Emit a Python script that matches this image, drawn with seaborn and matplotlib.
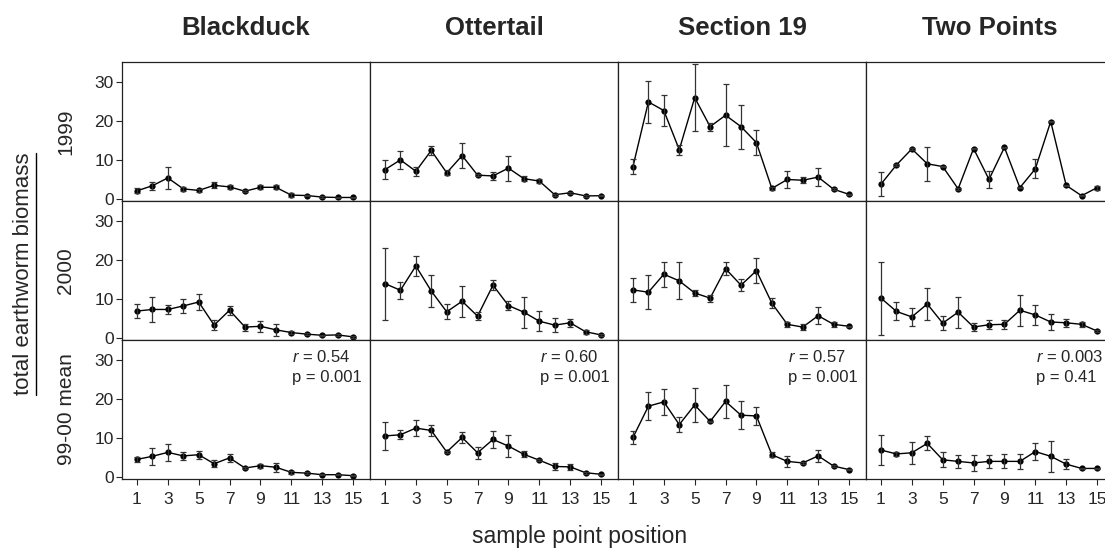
import matplotlib
matplotlib.use("Agg")
import matplotlib.pyplot as plt
from matplotlib.lines import Line2D
import numpy as np
import pandas as pd
import seaborn as sns

sites = ["Blackduck", "Ottertail", "Section 19", "Two Points"]
years = ["1999", "2000", "99-00 mean"]
positions = list(range(1, 16))
xtick_labels = ["1", "3", "5", "7", "9", "11", "13", "15"]

# 1999
blackduck_1999 = [2.1, 3.4, 5.4, 2.6, 2.2, 3.5, 3.1, 2.0, 3.0, 3.0, 1.0, 0.9, 0.5, 0.4, 0.4]
blackduck_1999_se = [0.6, 1.0, 2.9, 0.5, 0.3, 0.8, 0.5, 0.2, 0.5, 0.5, 0.5, 0.2, 0.2, 0.2, 0.2]
ottertail_1999 = [7.5, 10.0, 7.1, 12.4, 6.7, 11.1, 6.1, 5.9, 7.9, 5.2, 4.6, 1.1, 1.6, 0.8, 0.85]
ottertail_1999_se = [2.4, 2.2, 1.1, 1.1, 0.6, 3.1, 0.2, 1.0, 3.2, 0.6, 0.6, 0.2, 0.2, 0.2, 0.2]
section19_1999 = [8.3, 24.8, 22.6, 12.6, 25.9, 18.5, 21.4, 18.5, 14.4, 2.7, 5.0, 4.8, 5.6, 2.5, 1.2]
section19_1999_se = [1.8, 5.4, 3.9, 1.3, 8.6, 1.0, 7.9, 5.6, 3.2, 0.5, 2.1, 0.8, 2.3, 0.2, 0.2]
twopoints_1999 = [3.8, 8.7, 12.8, 9.0, 8.3, 2.6, 12.9, 5.0, 13.2, 2.9, 7.7, 19.8, 3.5, 0.85, 2.9]
twopoints_1999_se = [3.0, 0.2, 0.2, 4.3, 0.2, 0.2, 0.2, 2.1, 0.2, 0.2, 2.4, 0.2, 0.2, 0.2, 0.5]

# 2000
blackduck_2000 = [6.9, 7.3, 7.3, 8.2, 9.2, 3.3, 7.1, 2.8, 3.0, 2.1, 1.4, 1.0, 0.7, 0.8, 0.3]
blackduck_2000_se = [1.9, 3.1, 1.1, 1.8, 2.1, 1.2, 1.2, 0.9, 1.4, 1.5, 0.3, 0.2, 0.2, 0.2, 0.2]
ottertail_2000 = [13.9, 12.2, 18.4, 12.0, 6.7, 9.4, 5.6, 13.5, 8.3, 6.6, 4.3, 3.3, 3.9, 1.6, 0.8]
ottertail_2000_se = [9.2, 2.2, 2.5, 4.0, 1.9, 4.0, 1.0, 1.2, 1.2, 4.0, 2.5, 1.7, 1.0, 0.5, 0.2]
section19_2000 = [12.3, 11.7, 16.3, 14.6, 11.5, 10.2, 17.7, 13.5, 17.2, 8.9, 3.5, 2.8, 5.7, 3.5, 3.0]
section19_2000_se = [3.1, 4.4, 3.2, 4.7, 0.7, 0.9, 1.7, 1.6, 3.2, 1.3, 0.7, 0.8, 2.2, 0.7, 0.2]
twopoints_2000 = [10.2, 6.8, 5.4, 8.7, 3.8, 6.6, 2.8, 3.4, 3.5, 7.1, 5.9, 4.1, 3.9, 3.5, 1.8]
twopoints_2000_se = [9.3, 2.3, 2.4, 4.0, 1.8, 4.0, 1.0, 1.2, 1.2, 4.0, 2.5, 2.0, 1.0, 0.6, 0.2]

# 99-00 mean
blackduck_mean = [4.5, 5.3, 6.3, 5.4, 5.7, 3.4, 4.9, 2.3, 2.9, 2.5, 1.2, 1.0, 0.6, 0.6, 0.35]
blackduck_mean_se = [0.6, 2.1, 2.1, 1.0, 1.0, 0.9, 1.0, 0.3, 0.5, 1.1, 0.4, 0.2, 0.2, 0.2, 0.2]
ottertail_mean = [10.5, 10.8, 12.5, 11.9, 6.4, 10.1, 6.2, 9.6, 7.9, 5.8, 4.3, 2.7, 2.6, 1.1, 0.7]
ottertail_mean_se = [3.5, 1.1, 2.0, 1.4, 0.2, 1.5, 1.5, 2.2, 2.8, 0.8, 0.2, 0.8, 0.7, 0.2, 0.2]
section19_mean = [10.1, 18.1, 19.2, 13.4, 18.4, 14.2, 19.3, 15.8, 15.6, 5.7, 4.0, 3.6, 5.4, 2.8, 1.9]
section19_mean_se = [1.7, 3.5, 3.3, 2.0, 4.3, 0.2, 4.1, 3.6, 2.4, 0.7, 1.4, 0.2, 1.6, 0.3, 0.2]
twopoints_mean = [6.9, 5.9, 6.2, 8.6, 4.4, 4.0, 3.6, 4.0, 4.0, 4.0, 6.5, 5.3, 3.3, 2.2, 2.2]
twopoints_mean_se = [3.9, 0.5, 2.8, 1.8, 1.9, 1.6, 2.0, 1.6, 1.8, 1.9, 2.2, 3.9, 1.2, 0.2, 0.2]

r_values = ["0.54", "0.60", "0.57", "0.003"]
p_values = ["0.001", "0.001", "0.001", "0.41"]

values = [
    [blackduck_1999, ottertail_1999, section19_1999, twopoints_1999],
    [blackduck_2000, ottertail_2000, section19_2000, twopoints_2000],
    [blackduck_mean, ottertail_mean, section19_mean, twopoints_mean],
]
errors = [
    [blackduck_1999_se, ottertail_1999_se, section19_1999_se, twopoints_1999_se],
    [blackduck_2000_se, ottertail_2000_se, section19_2000_se, twopoints_2000_se],
    [blackduck_mean_se, ottertail_mean_se, section19_mean_se, twopoints_mean_se],
]

sns.set_style("white")
plt.rcParams['font.family'] = ['Liberation Sans', 'DejaVu Sans']
plt.rcParams['mathtext.fontset'] = 'custom'
plt.rcParams['mathtext.it'] = 'Liberation Sans:italic'
plt.rcParams['mathtext.rm'] = 'Liberation Sans'

W, H = 1105, 548
fig = plt.figure(figsize=(W / 100, H / 100), dpi=100)

left0, top0, cw, rh = 122, 62, 248, 139

for r in range(3):
    for c in range(4):
        x0 = (left0 + cw * c) / W
        y0 = 1 - (top0 + rh * (r + 1)) / H
        ax = fig.add_axes([x0, y0, cw / W, rh / H])
        df = pd.DataFrame({"position": positions, "biomass": values[r][c]})
        sns.lineplot(data=df, x="position", y="biomass", ax=ax, color="black",
                     marker="o", markersize=4.5, markeredgewidth=0, linewidth=1,
                     estimator=None, errorbar=None)
        ax.errorbar(positions, values[r][c], yerr=errors[r][c], fmt="none",
                    ecolor="#333333", elinewidth=0.9, capsize=2.5, capthick=0.9)
        ax.set_xlim(0.03, 16.1)
        ax.set_ylim(-0.5, 35)
        ax.set_xlabel("")
        ax.set_ylabel("")
        for s in ax.spines.values():
            s.set_color("#222222")
            s.set_linewidth(0.9)
        if c == 0:
            ax.set_yticks([0, 10, 20, 30])
            ax.tick_params(axis="y", direction="out", length=4, width=0.8,
                           labelsize=12.5, left=True, pad=2)
        else:
            ax.set_yticks([])
        if r == 2:
            ax.set_xticks(positions[::2])
            ax.set_xticklabels(xtick_labels)
            ax.tick_params(axis="x", direction="out", length=4, width=0.8,
                           labelsize=12.5, bottom=True, pad=5)
            ax.text(0.685, 0.878, r"$\it{r}$ = " + r_values[c], transform=ax.transAxes,
                    fontsize=12, ha="left", va="center")
            ax.text(0.685, 0.727, "p = " + p_values[c], transform=ax.transAxes,
                    fontsize=12, ha="left", va="center")
        else:
            ax.set_xticks([])
        if r == 0:
            fig.text((left0 + cw * c + cw / 2) / W, 1 - 28 / H, sites[c],
                     fontsize=18.5, fontweight="bold", ha="center", va="center")
    fig.text(66 / W, 1 - (top0 + rh * r + rh / 2) / H, years[r], fontsize=15,
             rotation=90, ha="center", va="center")

fig.text(580 / W, 1 - 537 / H, "sample point position",
         fontsize=16.5, ha="center", va="center")
ylab = fig.text(24 / W, 1 - 274 / H, "total earthworm biomass", fontsize=16,
                rotation=90, ha="center", va="center")

# underline the rotated label
fig.canvas.draw()
bb = ylab.get_window_extent().transformed(fig.transFigure.inverted())
fig.add_artist(Line2D([bb.x1 + 1 / W, bb.x1 + 1 / W], [bb.y0, bb.y1],
                      transform=fig.transFigure, color="black", linewidth=1))

fig.savefig("out.png", dpi=100)
